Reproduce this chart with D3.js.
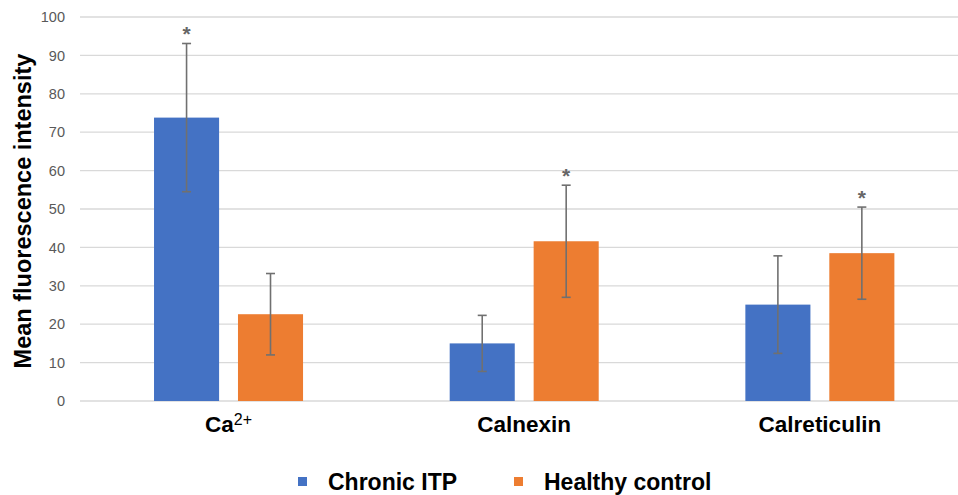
<!DOCTYPE html>
<html>
<head>
<meta charset="utf-8">
<script src="https://cdn.jsdelivr.net/npm/d3@7"></script>
<style>
  body { margin: 0; background: #fff; }
  svg { display: block; font-family: "Liberation Sans", Arial, sans-serif; }
</style>
</head>
<body>
<svg id="chart" width="958" height="495"></svg>
<script>
// values
const categories = ['Ca2+', 'Calnexin', 'Calreticulin'];
const seriesNames = ['Chronic ITP', 'Healthy control'];
const itpMean = [73.8, 15.0, 25.1];
const itpSd = [19.3, 7.3, 12.7];
const hcMean = [22.6, 41.6, 38.5];
const hcSd = [10.6, 14.6, 12.0];
// which bars got a star
const itpStar = [true, false, false];
const hcStar = [false, true, true];
const yTicks = [0, 10, 20, 30, 40, 50, 60, 70, 80, 90, 100];

const colors = ['#4472C4', '#ED7D31'];

const rows = categories.map((c, i) => ({
    cat: c,
    vals: [
        { s: seriesNames[0], mean: itpMean[i], sd: itpSd[i], star: itpStar[i] },
        { s: seriesNames[1], mean: hcMean[i], sd: hcSd[i], star: hcStar[i] }
    ]
}));

const svg = d3.select('#chart');

const y = d3.scaleLinear().domain([0, 100]).range([401, 17]);

const x0 = d3.scaleBand()
    .domain(categories)
    .range([80.7, 967.7])
    .paddingInner(0.496)
    .paddingOuter(0.248);

const x1 = d3.scaleBand()
    .domain(seriesNames)
    .range([0, x0.bandwidth()])
    .paddingInner(0.225);

const color = d3.scaleOrdinal().domain(seriesNames).range(colors);

// gridlines
svg.append('g')
    .selectAll('line')
    .data(yTicks)
    .enter()
    .append('line')
    .attr('x1', 80)
    .attr('x2', 958)
    .attr('y1', d => y(d))
    .attr('y2', d => y(d))
    .attr('stroke', '#d9d9d9')
    .attr('stroke-width', 1.3);

// y tick labels
const yAxis = svg.append('g')
    .attr('transform', 'translate(71,0)')
    .call(d3.axisLeft(y).tickValues(yTicks).tickSize(0).tickPadding(6));
yAxis.select('.domain').remove();
yAxis.selectAll('text')
    .attr('fill', '#595959')
    .style('font-size', '14.5px')
    .style('font-family', '"Liberation Sans", Arial, sans-serif');

// bars
const groups = svg.append('g')
    .selectAll('g')
    .data(rows)
    .enter()
    .append('g')
    .attr('transform', d => `translate(${x0(d.cat)},0)`);

groups.selectAll('rect')
    .data(d => d.vals)
    .enter()
    .append('rect')
    .attr('x', d => x1(d.s))
    .attr('width', x1.bandwidth())
    .attr('y', d => y(d.mean))
    .attr('height', d => y(0) - y(d.mean))
    .attr('fill', d => color(d.s));

// error bars
const err = groups.selectAll('g.err')
    .data(d => d.vals)
    .enter()
    .append('g')
    .attr('class', 'err')
    .attr('stroke', '#707070')
    .attr('stroke-width', 1.6);

const cx = d => x1(d.s) + x1.bandwidth() / 2;

err.append('line')
    .attr('x1', cx).attr('x2', cx)
    .attr('y1', d => y(d.mean + d.sd))
    .attr('y2', d => y(d.mean - d.sd));
err.append('line')
    .attr('x1', d => cx(d) - 4.5).attr('x2', d => cx(d) + 4.5)
    .attr('y1', d => y(d.mean + d.sd))
    .attr('y2', d => y(d.mean + d.sd));
err.append('line')
    .attr('x1', d => cx(d) - 4.5).attr('x2', d => cx(d) + 4.5)
    .attr('y1', d => y(d.mean - d.sd))
    .attr('y2', d => y(d.mean - d.sd));

// significance stars
groups.selectAll('text.star')
    .data(d => d.vals.filter(v => v.star))
    .enter()
    .append('text')
    .attr('class', 'star')
    .attr('x', cx)
    .attr('y', d => y(d.mean + d.sd) - 2)
    .attr('text-anchor', 'middle')
    .attr('fill', '#666')
    .style('font-size', '21px')
    .style('font-weight', 'bold')
    .text('*');

// category labels
const catLabels = svg.append('g')
    .selectAll('text')
    .data(categories)
    .enter()
    .append('text')
    .attr('x', d => x0(d) + x0.bandwidth() / 2)
    .attr('y', 432)
    .attr('text-anchor', 'middle')
    .attr('fill', '#000')
    .style('font-size', '22.5px')
    .style('font-weight', 'bold');

catLabels.each(function(d) {
    const t = d3.select(this);
    if (d === 'Ca2+') {
        t.append('tspan').text('Ca');
        t.append('tspan')
            .attr('dy', -7)
            .style('font-size', '16px')
            .style('font-weight', 'normal')
            .text('2+');
    } else {
        t.text(d);
    }
});

// y axis title
svg.append('text')
    .attr('transform', 'translate(31,211) rotate(-90)')
    .attr('text-anchor', 'middle')
    .attr('fill', '#000')
    .style('font-size', '23.5px')
    .style('font-weight', 'bold')
    .text('Mean fluorescence intensity');

// legend
const legendX = [298, 514];
const legend = svg.append('g')
    .selectAll('g')
    .data(seriesNames)
    .enter()
    .append('g')
    .attr('transform', (d, i) => `translate(${legendX[i]},0)`);

legend.append('rect')
    .attr('x', 0)
    .attr('y', 477)
    .attr('width', 9)
    .attr('height', 9)
    .attr('fill', d => color(d));

legend.append('text')
    .attr('x', 30)
    .attr('y', 490)
    .attr('fill', '#000')
    .style('font-size', '23px')
    .style('font-weight', 'bold')
    .text(d => d);
</script>
</body>
</html>
